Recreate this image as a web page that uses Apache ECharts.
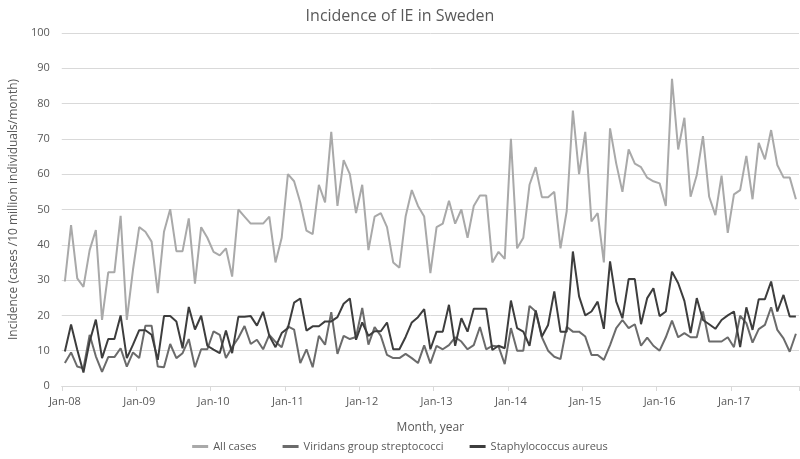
<!DOCTYPE html>
<html>
<head>
<meta charset="utf-8">
<script src="https://cdn.jsdelivr.net/npm/echarts@6/dist/echarts.min.js"></script>
<style>
html,body{margin:0;padding:0;background:#fff;}
#chart{width:800px;height:459px;}
</style>
</head>
<body>
<div id="chart"></div>
<script>
var monthNames = ['Jan','Feb','Mar','Apr','May','Jun','Jul','Aug','Sep','Oct','Nov','Dec'];
var years = ['08','09','10','11','12','13','14','15','16','17'];
var categories = [];
for (var y = 0; y < years.length; y++) {
  for (var m = 0; m < 12; m++) {
    if (categories.length < 119) categories.push(monthNames[m] + '-' + years[y]);
  }
}

var allCases = [
  29.6, 45.6, 30.5, 28.1, 38.5, 44.2, 18.7, 32.2, 32.2, 48.2, 18.7, 33,
  45, 43.7, 40.9, 26.3, 43.7, 50.1, 38.2, 38.2, 47.5, 29, 45, 42,
  38, 37, 39, 31, 50, 48, 46, 46, 46, 48, 35, 42,
  60, 58, 52, 44, 43, 57, 52, 72, 51, 64, 60, 49,
  57, 38.5, 48, 49, 45, 35, 33.5, 48, 55.5, 51, 48, 32,
  45, 46, 52.5, 46, 50, 42, 51, 54, 54, 35, 38, 36,
  70, 39, 42, 57, 62, 53.5, 53.5, 55, 39, 49.5, 78, 60,
  72, 46.6, 49, 35, 73, 63, 55, 67, 63, 62, 59, 58,
  57.4, 51, 87, 67, 76, 53.6, 59.8, 70.8, 53.6, 48.4, 59.6, 43.4,
  54.3, 55.5, 65.2, 52.9, 68.9, 64.2, 72.5, 62.6, 59.1, 59.1, 52.9
];
var viridans = [
  6.5, 9.5, 5.5, 5, 14.5, 8.4, 4, 8.2, 8.2, 10.7, 5.5, 9.5,
  7.9, 17.1, 17.1, 5.5, 5.3, 11.9, 7.9, 9.3, 13.3, 5.3, 10.4, 10.4,
  15.5, 14.5, 7.9, 11, 13.6, 17, 11.9, 13.1, 10.4, 14.5, 12.5, 11,
  16.9, 16, 6.5, 10.4, 5.3, 14.2, 11.7, 20.9, 9.1, 14.2, 13.3, 13.9,
  22.1, 11.7, 16.7, 14.2, 8.8, 7.9, 7.9, 9.1, 7.9, 6.5, 11.5, 6.4,
  11.4, 10.4, 11.6, 13.8, 12.6, 10.4, 11.6, 16.7, 10.4, 11.4, 11.2, 6.2,
  16.4, 10, 10, 22.7, 21.1, 13.8, 10, 8.3, 7.6, 16.8, 15.4, 15.4,
  14, 8.8, 8.8, 7.4, 11.6, 16.4, 18.7, 16.4, 17.5, 11.4, 13.7, 11.4,
  10, 13.8, 18.5, 13.8, 15, 13.8, 13.8, 21.1, 12.6, 12.6, 12.6, 13.8,
  11, 19.9, 17.8, 12.3, 16.1, 17.3, 22.3, 15.9, 13.5, 9.7, 14.8
];
var staph = [
  9.8, 17.4, 10.3, 3.8, 12.6, 18.8, 7.9, 13.3, 13.3, 20, 7.9, 11.7,
  15.8, 15.8, 14.5, 7.4, 19.8, 19.8, 18.3, 10.7, 22.4, 16, 19.9, 11.4,
  10.3, 9.3, 15.7, 9.3, 19.6, 19.6, 19.8, 17.1, 21, 14.2, 11, 15,
  16.4, 23.6, 24.8, 15.7, 16.9, 16.9, 18.3, 18.3, 19.5, 23.3, 24.8, 13.1,
  18, 14.2, 15.5, 15.5, 18, 10.4, 10.4, 13.9, 18, 19.5, 21.8, 10.4,
  15.4, 15.4, 23, 11.4, 19.2, 15.4, 21.9, 21.9, 21.9, 10.2, 11.4, 10.7,
  24.2, 16.4, 15.4, 11.4, 21.4, 14, 17.3, 26.8, 15.4, 15.4, 38.1, 25.4,
  20, 21.1, 23.9, 16.2, 35.3, 23.9, 19.2, 30.3, 30.3, 17.5, 24.9, 27.7,
  19.8, 21.1, 32.4, 29.1, 24.1, 15, 24.9, 18.7, 17.5, 16.2, 18.7, 20,
  21.1, 11, 22.3, 15.9, 24.6, 24.6, 29.6, 21.1, 25.8, 19.7, 19.7
];
var seriesNames = ['All cases', 'Viridans group streptococci', 'Staphylococcus aureus'];
var seriesColors = ['#a9a9a9', '#6b6b6b', '#3d3d3d'];
var yTicks = [0, 10, 20, 30, 40, 50, 60, 70, 80, 90, 100];

var font = '"Open Sans", Lato, sans-serif';
var chart = echarts.init(document.getElementById('chart'), null, {renderer: 'canvas'});
chart.setOption({
  animation: false,
  backgroundColor: '#ffffff',
  title: {
    text: 'Incidence of IE in Sweden',
    left: 'center',
    top: 3,
    textStyle: {fontFamily: font, fontSize: 16, fontWeight: 'normal', color: '#595959'}
  },
  legend: {
    bottom: 2,
    left: 'center',
    itemWidth: 16,
    itemHeight: 3,
    itemGap: 26,
    icon: 'rect',
    textStyle: {fontFamily: font, fontSize: 11, color: '#595959'},
    data: seriesNames
  },
  grid: {left: 48, right: 1, top: 33, bottom: 73, containLabel: false},
  xAxis: {
    type: 'category',
    data: categories,
    boundaryGap: true,
    name: 'Month, year',
    nameLocation: 'middle',
    nameGap: 36,
    nameTextStyle: {fontFamily: font, fontSize: 12, color: '#595959'},
    axisLine: {lineStyle: {color: '#d9d9d9', width: 1}},
    axisTick: {show: true, interval: 11, length: 5, lineStyle: {color: '#d9d9d9'}},
    axisLabel: {interval: 11, fontFamily: font, fontSize: 11, color: '#595959', margin: 10}
  },
  yAxis: {
    type: 'value',
    min: yTicks[0],
    max: yTicks[yTicks.length - 1],
    interval: 10,
    name: 'Incidence (cases /10 million individuals/month)',
    nameLocation: 'middle',
    nameRotate: 90,
    nameGap: 36,
    nameTextStyle: {fontFamily: font, fontSize: 12, color: '#595959'},
    axisLine: {show: false},
    axisTick: {show: false},
    axisLabel: {fontFamily: font, fontSize: 11, color: '#595959', margin: 12},
    splitLine: {lineStyle: {color: '#d9d9d9', width: 1}}
  },
  series: [
    {name: seriesNames[0], type: 'line', data: allCases, symbol: 'none', color: seriesColors[0], lineStyle: {width: 2, color: seriesColors[0]}},
    {name: seriesNames[1], type: 'line', data: viridans, symbol: 'none', color: seriesColors[1], lineStyle: {width: 2, color: seriesColors[1]}},
    {name: seriesNames[2], type: 'line', data: staph, symbol: 'none', color: seriesColors[2], lineStyle: {width: 2, color: seriesColors[2]}}
  ]
});
</script>
</body>
</html>
